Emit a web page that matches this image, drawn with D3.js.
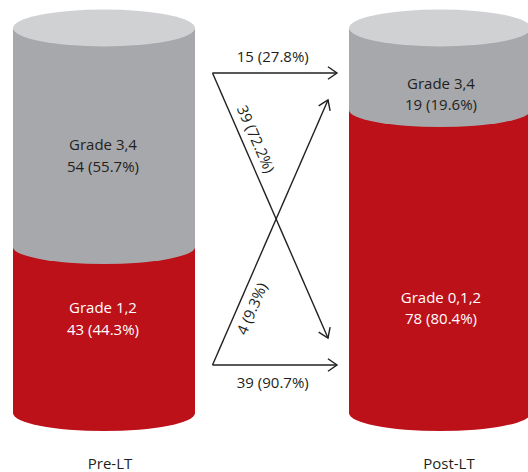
<!DOCTYPE html>
<html><head><meta charset="utf-8">
<script src="https://cdn.jsdelivr.net/npm/d3@7"></script>
<style>html,body{margin:0;padding:0;background:#fff}svg{display:block}</style>
</head><body><svg id="c" width="528" height="472"></svg>
<script>
// ---- data ----
const categories = ["Pre-LT", "Post-LT"];
const lowGradeLabels = ["Grade 1,2", "Grade 0,1,2"];
const highGradeLabels = ["Grade 3,4", "Grade 3,4"];
const lowCounts = [43, 78];
const lowPct = [44.3, 80.4];
const highCounts = [54, 19];
const highPct = [55.7, 19.6];
const flowFrom = ["high", "high", "low", "low"];
const flowTo = ["high", "low", "high", "low"];
const flowCounts = [15, 39, 4, 39];
const flowPct = [27.8, 72.2, 9.3, 90.7];

// ---- layout ----
const svg = d3.select("#c");
const font = "'Open Sans', 'Noto Sans', sans-serif";
const RED = "#bd111a", GRAY = "#a7a8ab", CAP = "#d0d1d3", INK = "#231f20";
const x = d3.scaleBand().domain(categories).range([13, 531]).paddingInner(0.4583).paddingOuter(0);
const y = d3.scaleLinear().domain([0, 100]).range([415, 35.6]);
const topY = 28, bottomY = 413, ry = 18;
const rx = x.bandwidth() / 2;

categories.forEach((c, i) => {
  const x0 = x(c), cx = x0 + rx;
  const b = y(lowPct[i]);
  const g = svg.append("g");
  // red (low grade) segment
  g.append("rect").attr("x", x0).attr("y", b).attr("width", x.bandwidth()).attr("height", bottomY - b).attr("fill", RED);
  g.append("ellipse").attr("cx", cx).attr("cy", bottomY).attr("rx", rx).attr("ry", ry).attr("fill", RED);
  // gray (high grade) segment
  g.append("rect").attr("x", x0).attr("y", topY).attr("width", x.bandwidth()).attr("height", b - topY).attr("fill", GRAY);
  g.append("ellipse").attr("cx", cx).attr("cy", b).attr("rx", rx).attr("ry", ry - 1).attr("fill", GRAY);
  // top cap
  g.append("ellipse").attr("cx", cx).attr("cy", topY).attr("rx", rx).attr("ry", ry + 0.5).attr("fill", CAP);

  // labels
  const lx = cx + (i === 0 ? -1 : 1);
  const hiMid = i === 0 ? y(69) : y(85.2);
  const loMid = i === 0 ? y(26) : y(28.7);
  const t1 = g.append("text").attr("x", lx).attr("y", hiMid).attr("text-anchor", "middle")
    .attr("font-family", font).attr("font-size", 15).attr("fill", INK);
  t1.append("tspan").attr("x", lx).attr("dy", "-0.2em").text(highGradeLabels[i]);
  t1.append("tspan").attr("x", lx).attr("dy", "1.42em").text(`${highCounts[i]} (${highPct[i]}%)`);
  const t2 = g.append("text").attr("x", lx).attr("y", loMid).attr("text-anchor", "middle")
    .attr("font-family", font).attr("font-size", 15).attr("fill", "#fff");
  t2.append("tspan").attr("x", lx).attr("dy", "-0.2em").text(lowGradeLabels[i]);
  t2.append("tspan").attr("x", lx).attr("dy", "1.42em").text(`${lowCounts[i]} (${lowPct[i]}%)`);

  // category label
  svg.append("text").attr("x", cx + 6 + (i === 1 ? 3 : 0)).attr("y", 469).attr("text-anchor", "middle")
    .attr("font-family", font).attr("font-size", 15).attr("fill", INK).text(c);
});

// ---- flow arrows ----
const startX = 212.5, endX = 337, diagEndX = 328;
const srcY = { high: 73, low: 365 };
const dstY = { high: { straight: 73, diag: 100 }, low: { straight: 365, diag: 338 } };
const ag = svg.append("g").attr("stroke", INK).attr("stroke-width", 1.4).attr("fill", "none");

function arrowHead(x2, y2, ang) {
  const L = 11, spread = Math.PI / 5.2;
  const p1 = [x2 - L * Math.cos(ang - spread), y2 - L * Math.sin(ang - spread)];
  const p2 = [x2 - L * Math.cos(ang + spread), y2 - L * Math.sin(ang + spread)];
  ag.append("path").attr("d", `M${p1[0]},${p1[1]}L${x2},${y2}L${p2[0]},${p2[1]}`);
}

flowCounts.forEach((n, k) => {
  const f = flowFrom[k], t = flowTo[k];
  const x1 = startX, y1 = srcY[f];
  const straight = f === t;
  const x2 = straight ? endX : diagEndX;
  const y2 = straight ? dstY[t].straight : dstY[t].diag;
  ag.append("line").attr("x1", x1).attr("y1", y1).attr("x2", x2).attr("y2", y2);
  const ang = Math.atan2(y2 - y1, x2 - x1);
  arrowHead(x2, y2, ang);
  const label = `${n} (${flowPct[k]}%)`;
  if (straight) {
    const ly = f === "high" ? y1 - 11 : y1 + 23;
    svg.append("text").attr("x", (x1 + x2) / 2 - 2).attr("y", ly).attr("text-anchor", "middle")
      .attr("font-family", font).attr("font-size", 15).attr("fill", INK).text(label);
  } else {
    const deg = ang * 180 / Math.PI;
    const along = f === "high" ? 42 : 40;
    const off = f === "high" ? -8 : 19;
    const tg = svg.append("g").attr("transform", `translate(${x1},${y1}) rotate(${deg})`);
    tg.append("text").attr("x", along).attr("y", off)
      .attr("text-anchor", "start")
      .attr("font-family", font).attr("font-size", 15).attr("fill", INK).text(label);
  }
});
</script></body></html>
